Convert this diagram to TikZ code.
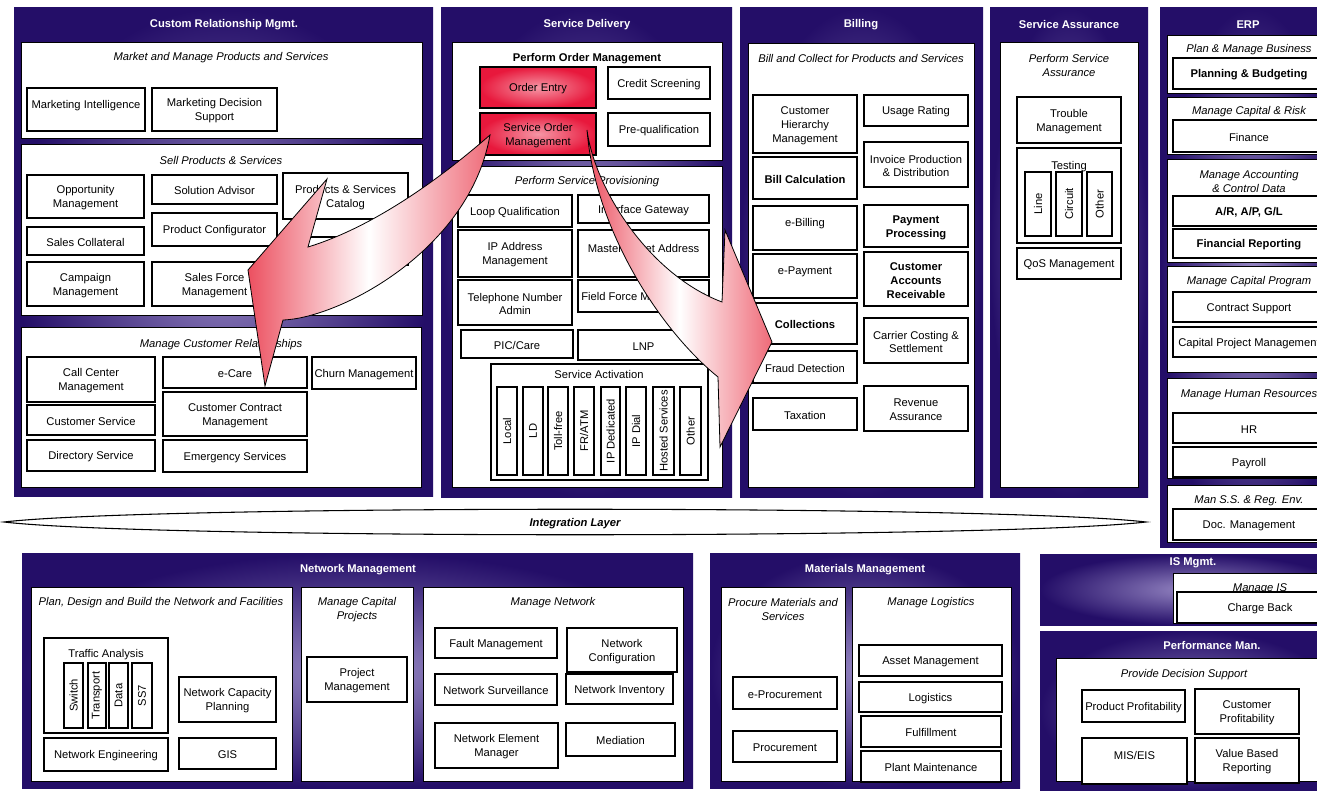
\documentclass[tikz,border=0pt]{standalone}
\usepackage{fontspec}
\setmainfont{Liberation Sans}
\usetikzlibrary{calc}
\definecolor{pdark}{RGB}{36,14,104}
\definecolor{plight}{RGB}{150,135,195}
\definecolor{ared}{RGB}{236,80,96}
\definecolor{bred}{RGB}{232,24,60}
\definecolor{bpink}{RGB}{245,150,165}
\tikzset{
 itembox/.style={draw=black, line width=1.5pt, fill=white},
 grpbox/.style={draw=black, line width=0.6pt, fill=white},
 itemtext/.style={align=center, inner sep=0pt, yshift=-1.1pt, font=\fontsize{8.4}{10.4}\selectfont},
 grptitle/.style={align=center, inner sep=0pt, yshift=-1.1pt, font=\fontsize{8.4}{10.4}\selectfont\itshape},
 paneltitle/.style={inner sep=0pt, yshift=-1.3pt, text=white, font=\fontsize{8.4}{10.4}\selectfont\bfseries},
 redbox/.style={inner color=bpink, outer color=bred},
 bigarrow/.style={draw=black, line width=0.6pt},
}
\newcommand\itembx[7][]{\path[itembox,#1] (#3,#4) rectangle (#5,#6);
  \node[itemtext] (#2) at ({(#3+#5)/2},{(#4+#6)/2}) {#7};}
\newcommand\vertbx[6]{\path[itembox] (#2,#3) rectangle (#4,#5);
  \node[itemtext, yshift=1.1pt, rotate=90] (#1) at ({(#2+#4)/2},{(#3+#5)/2}) {#6};}
\newcommand\grpbx[9][grpbox]{\path[#1] (#3,#4) rectangle (#5,#6);
  \node[grptitle] (#2) at (#7,#8) {#9};}
\newcommand\panelbx[8]{\shade[inner color=plight, outer color=pdark] (#2,#3) rectangle (#4,#5);
  \node[paneltitle] (#1) at (#6,#7) {#8};}
\begin{document}
\begin{tikzpicture}[x=0.75pt,y=-0.75pt]
\useasboundingbox (0,0) rectangle (1317,798);
\clip (0,0) rectangle (1317,798);
\fill[white] (0,0) rectangle (1317,798);
% ---------- panels
\panelbx{crm}{14}{8}{433}{496}{224}{23}{Custom Relationship Mgmt.}
\panelbx{sd}{441}{8}{732}{497}{587}{23}{Service Delivery}
\panelbx{bill}{740}{8}{983}{497}{861}{23}{Billing}
\panelbx{sa}{990}{8}{1148}{497}{1069}{23}{Service Assurance}
\panelbx{erp}{1160}{8}{1345}{547}{1248}{23}{ERP}
\panelbx{nm}{22}{553}{693}{788}{358}{568}{Network Management}
\panelbx{mm}{710}{553}{1020}{788}{865}{568}{Materials Management}
\panelbx{ism}{1040}{554}{1345}{625}{1193}{561}{IS Mgmt.}
\panelbx{perf}{1040}{631}{1345}{790}{1212}{644}{Performance Man.}
% ---------- CRM
\grpbx{mkt}{21}{42}{422}{138}{221}{56}{Market and Manage Products and Services}
\itembx{mi}{27}{88}{145}{131}{Marketing Intelligence\\~}
\itembx{mds}{152}{88}{277}{131}{Marketing Decision\\Support}
\grpbx{sell}{21}{144}{422}{315}{221}{159}{Sell Products \& Services}
\itembx{opp}{27}{175}{144}{218}{Opportunity\\Management}
\itembx{scol}{27}{227}{144}{255}{Sales Collateral}
\itembx{camp}{27}{262}{144}{306}{Campaign\\Management}
\itembx{sadv}{152}{175}{277}{204}{Solution Advisor}
\itembx{pconf}{152}{213}{277}{246}{Product Configurator}
\itembx{sfm}{152}{262}{277}{306}{Sales Force\\Management}
\itembx{psc}{283}{173}{408}{219}{Products \& Services\\Catalog}
\itembx{hid}{283}{237}{408}{265}{}
\grpbx{mcr}{21}{327}{421}{487}{221}{343}{Manage Customer Relationships}
\itembx{ccm}{27}{357}{155}{402}{Call Center\\Management}
\itembx{cserv}{27}{405}{155}{435}{Customer Service}
\itembx{dserv}{27}{440}{155}{471}{Directory Service}
\itembx{ecare}{163}{357}{307}{388}{e-Care}
\itembx{ccon}{163}{392}{307}{436}{Customer Contract\\Management}
\itembx{emerg}{163}{440}{307}{472}{Emergency Services}
\itembx{churn}{312}{357}{416}{389}{Churn Management}
% ---------- Service Delivery
\grpbx{pom}{452}{42}{722}{160}{587}{57}{\upshape\bfseries Perform Order Management}
\itembx[redbox]{oe}{480}{67}{596}{108}{Order Entry}
\itembx[redbox]{som}{480}{113}{596}{155}{Service Order\\Management}
\itembx{cscr}{608}{67}{710}{99}{Credit Screening}
\itembx{preq}{608}{113}{710}{146}{Pre-qualification}
\grpbx{psp}{452}{166}{722}{487}{587}{180}{Perform Service Provisioning}
\itembx{lq}{458}{195}{572}{227}{Loop Qualification}
\itembx{ig}{578}{195}{709}{223}{Interface Gateway}
\itembx{ipm}{458}{230}{572}{277}{IP Address\\Management}
\itembx{msa}{578}{230}{709}{277}{Master Street Address\\~}
\itembx{tna}{458}{280}{572}{325}{Telephone Number\\Admin}
\itembx{ffm}{578}{280}{709}{312}{Field Force Management}
\itembx{pic}{461}{330}{573}{358}{PIC/Care}
\itembx{lnp}{578}{330}{709}{360}{LNP}
\grpbx[itembox]{sact}{491}{364}{708}{480}{599}{373}{\upshape Service Activation}
\vertbx{loc}{497}{387}{517}{475}{Local}
\vertbx{ld}{523}{387}{543}{475}{LD}
\vertbx{tollf}{548}{387}{568}{475}{Toll-free}
\vertbx{fratm}{574}{387}{594}{475}{FR/ATM}
\vertbx{ipded}{601}{387}{620}{475}{IP Dedicated}
\vertbx{ipdial}{626}{387}{646}{475}{IP Dial}
\vertbx{hosted}{653}{387}{674}{475}{Hosted Services}
\vertbx{othsd}{680}{387}{701}{475}{Other}
% ---------- Billing
\grpbx{bcp}{748}{43}{974}{487}{861}{57}{Bill and Collect for Products and Services}
\itembx{chm}{753}{95}{857}{153}{Customer\\Hierarchy\\Management}
\itembx{bcalc}{753}{157}{857}{199}{\textbf{Bill Calculation}}
\itembx{ebill}{753}{206}{857}{250}{e-Billing\\~}
\itembx{epay}{753}{254}{857}{298}{e-Payment\\~}
\itembx{coll}{753}{303}{857}{344}{\textbf{Collections}}
\itembx{fraud}{753}{351}{857}{383}{Fraud Detection}
\itembx{tax}{753}{398}{857}{430}{Taxation}
\itembx{urate}{864}{95}{968}{126}{Usage Rating}
\itembx{ipd}{864}{142}{968}{187}{Invoice Production\\\& Distribution}
\itembx{ppro}{864}{205}{968}{247}{\textbf{Payment}\\\textbf{Processing}}
\itembx{car}{864}{252}{968}{306}{\textbf{Customer}\\\textbf{Accounts}\\\textbf{Receivable}}
\itembx{ccs}{864}{318}{968}{363}{Carrier Costing \&\\Settlement}
\itembx{rass}{864}{386}{968}{431}{Revenue\\Assurance}
% ---------- Service Assurance
\grpbx{psa}{1000}{42}{1138}{487}{1069}{64}{Perform Service\\Assurance}
\itembx{trm}{1017}{97}{1121}{143}{Trouble\\Management}
\grpbx[itembox]{test}{1017}{148}{1121}{243}{1069}{165}{\upshape Testing}
\vertbx{tline}{1025}{172}{1051}{236}{Line}
\vertbx{tcirc}{1056}{172}{1082}{236}{Circuit}
\vertbx{toth}{1087}{172}{1112}{236}{Other}
\itembx{qos}{1017}{248}{1121}{279}{QoS Management}
% ---------- ERP
\grpbx{pmb}{1167}{35}{1331}{93}{1249}{48}{Plan \& Manage Business}
\itembx{pbud}{1173}{58}{1325}{89}{\textbf{Planning \& Budgeting}}
\grpbx{mcrk}{1167}{97}{1331}{154}{1249}{110}{Manage Capital \& Risk}
\itembx{fin}{1173}{120}{1325}{152}{Finance}
\grpbx{macd}{1167}{159}{1331}{262}{1249}{180}{Manage Accounting\\\& Control Data}
\itembx{arap}{1173}{196}{1325}{226}{\textbf{A/R, A/P, G/L}}
\itembx{frep}{1173}{229}{1325}{258}{\textbf{Financial Reporting}}
\grpbx{mcpg}{1167}{266}{1331}{372}{1249}{280}{Manage Capital Program}
\itembx{cspt}{1173}{292}{1325}{322}{Contract Support}
\itembx{cpm}{1173}{327}{1325}{357}{Capital Project Management}
\grpbx{mhr}{1167}{378}{1331}{478}{1249}{393}{Manage Human Resources}
\itembx{hr}{1173}{413}{1325}{443}{HR}
\itembx{pay}{1173}{447}{1325}{477}{Payroll}
\grpbx{mss}{1167}{485}{1331}{542}{1249}{499}{Man S.S. \& Reg. Env.}
\itembx{doc}{1173}{509}{1325}{540}{Doc. Management}
% ---------- Integration layer
\draw[line width=0.8pt, fill=white] (4,522) .. controls (150,505) and (1000,505) .. (1146,522)
   .. controls (1000,539) and (150,539) .. (4,522) -- cycle;
\node[itemtext, font=\fontsize{8.4}{10.4}\selectfont\bfseries\itshape] (intl) at (575,522) {Integration Layer};
% ---------- Network Management
\grpbx{pdb}{31}{587}{292}{781}{161}{601}{Plan, Design and Build the Network and Facilities}
\grpbx[itembox]{traf}{44}{638}{168}{733}{106}{653}{\upshape Traffic Analysis}
\vertbx{swi}{64}{663}{83}{728}{Switch}
\vertbx{trans}{88}{663}{106}{728}{Transport}
\vertbx{tdata}{109}{663}{128}{728}{Data}
\vertbx{ss}{132}{663}{152}{728}{SS7}
\itembx{ncp}{179}{677}{276}{722}{Network Capacity\\Planning}
\itembx{neng}{44}{738}{168}{771}{Network Engineering}
\itembx{gis}{179}{738}{276}{769}{GIS}
\grpbx{mcpj}{301}{587}{413}{781}{357}{608}{Manage Capital\\Projects}
\itembx{pmgt}{307}{657}{407}{702}{Project\\Management}
\grpbx{mnet}{423}{587}{683}{781}{553}{601}{Manage Network}
\itembx{fmgt}{435}{628}{557}{658}{Fault Management}
\itembx{ncfg}{567}{628}{677}{672}{Network\\Configuration}
\itembx{nsurv}{435}{674}{557}{705}{Network Surveillance}
\itembx{ninv}{566}{674}{673}{704}{Network Inventory}
\itembx{nem}{435}{723}{558}{768}{Network Element\\Manager}
\itembx{med}{566}{723}{675}{756}{Mediation}
% ---------- Materials Management
\grpbx{pms}{721}{587}{845}{781}{783}{608}{Procure Materials and\\Services}
\itembx{eproc}{733}{677}{837}{709}{e-Procurement}
\itembx{proc}{733}{731}{837}{762}{Procurement}
\grpbx{mlog}{852}{587}{1011}{781}{931}{601}{Manage Logistics}
\itembx{asset}{859}{645}{1002}{676}{Asset Management}
\itembx{logi}{859}{682}{1002}{712}{Logistics}
\itembx{fulf}{861}{716}{1001}{747}{Fulfillment}
\itembx{plant}{861}{751}{1001}{782}{Plant Maintenance}
% ---------- IS Mgmt
\grpbx{mis}{1173}{573}{1345}{623}{1260}{587}{Manage IS}
\itembx{cback}{1177}{592}{1343}{623}{Charge Back}
% ---------- Performance
\grpbx{pds}{1056}{658}{1345}{781}{1184}{673}{Provide Decision Support}
\itembx{pprof}{1082}{690}{1185}{722}{Product Profitability}
\itembx{cprof}{1195}{689}{1299}{734}{Customer\\Profitability}
\itembx{miseis}{1082}{738}{1187}{784}{MIS/EIS\\~}
\itembx{vbr}{1195}{738}{1299}{783}{Value Based\\Reporting}
% ---------- big arrows
\coordinate (a1tail) at (490,135);
\coordinate (a1tip) at (265,386);
\path[bigarrow, left color=ared, right color=ared!85, middle color=white] (a1tail)
  .. controls (450,170) and (380,225) .. (308,247) -- (327,179) -- (248,270) -- (a1tip)
  -- (283,320) .. controls (340,318) and (470,250) .. (a1tail) -- cycle;
\coordinate (a2tail) at (587,130);
\coordinate (a2tip) at (772,342);
\path[bigarrow, left color=ared, right color=ared!85, middle color=white] (a2tail)
  .. controls (595,190) and (650,275) .. (722,302) -- (725,230) -- (a2tip) -- (720,447)
  -- (718,377) .. controls (660,330) and (595,230) .. (a2tail) -- cycle;
\end{tikzpicture}
\end{document}
